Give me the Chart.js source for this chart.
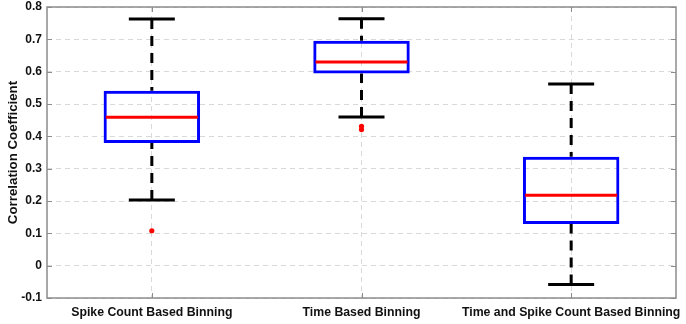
<!DOCTYPE html>
<html>
<head>
<meta charset="utf-8">
<script src="https://cdn.jsdelivr.net/npm/chart.js@4/dist/chart.umd.min.js"></script>
<style>
  html, body { margin: 0; padding: 0; background: #fff; }
  #wrap { width: 686px; height: 324px; }
</style>
</head>
<body>
<div id="wrap"><canvas id="boxChart"></canvas></div>
<script>
// data
const categories = ['Spike Count Based Binning', 'Time Based Binning', 'Time and Spike Count Based Binning'];
const whiskerLow = [0.203, 0.460, -0.058];
const q1 = [0.379, 0.594, 0.129];
const medians = [0.459, 0.630, 0.218];
const q3 = [0.541, 0.696, 0.337];
const whiskerHigh = [0.763, 0.764, 0.562];
const outliers = [
  { x: categories[0], y: 0.108 },
  { x: categories[1], y: 0.431 },
  { x: categories[1], y: 0.421 }
];
const yTicks = [-0.1, 0, 0.1, 0.2, 0.3, 0.4, 0.5, 0.6, 0.7, 0.8];

const FONT = '"Liberation Sans", Arial, sans-serif';

// whiskers, caps, medians, frame - all through the chart scales
const boxExtras = {
  id: 'boxExtras',
  beforeDatasetsDraw(chart) {
    const { ctx, scales: { x, y } } = chart;
    ctx.save();
    ctx.strokeStyle = '#000';
    ctx.lineWidth = 3;
    categories.forEach((c, i) => {
      const cx = x.getPixelForValue(i);
      // dashed whiskers
      ctx.setLineDash([10, 7]);
      ctx.beginPath();
      ctx.moveTo(cx, y.getPixelForValue(whiskerHigh[i]));
      ctx.lineTo(cx, y.getPixelForValue(q3[i]));
      ctx.moveTo(cx, y.getPixelForValue(whiskerLow[i]));
      ctx.lineTo(cx, y.getPixelForValue(q1[i]));
      ctx.stroke();
      // caps
      ctx.setLineDash([]);
      ctx.beginPath();
      ctx.moveTo(cx - 23, y.getPixelForValue(whiskerHigh[i]));
      ctx.lineTo(cx + 23, y.getPixelForValue(whiskerHigh[i]));
      ctx.moveTo(cx - 23, y.getPixelForValue(whiskerLow[i]));
      ctx.lineTo(cx + 23, y.getPixelForValue(whiskerLow[i]));
      ctx.stroke();
    });
    ctx.restore();
  },
  afterDatasetsDraw(chart) {
    const { ctx, chartArea: a, scales: { x, y } } = chart;
    ctx.save();
    // red medians
    ctx.strokeStyle = '#ff0000';
    ctx.lineWidth = 3;
    categories.forEach((c, i) => {
      const cx = x.getPixelForValue(i);
      const my = y.getPixelForValue(medians[i]);
      ctx.beginPath();
      ctx.moveTo(cx - 46, my);
      ctx.lineTo(cx + 46, my);
      ctx.stroke();
    });
    // grey frame and small ticks
    ctx.strokeStyle = '#8c8c8c';
    ctx.lineWidth = 1.5;
    ctx.strokeRect(a.left, a.top, a.right - a.left, a.bottom - a.top);
    ctx.lineWidth = 1;
    ctx.beginPath();
    yTicks.forEach(v => {
      const py = Math.round(y.getPixelForValue(v)) + 0.5;
      ctx.moveTo(a.left, py); ctx.lineTo(a.left + 5, py);
      ctx.moveTo(a.right, py); ctx.lineTo(a.right - 5, py);
    });
    categories.forEach((c, i) => {
      const px = Math.round(x.getPixelForValue(i)) + 0.5;
      ctx.moveTo(px, a.bottom); ctx.lineTo(px, a.bottom - 5);
      ctx.moveTo(px, a.top); ctx.lineTo(px, a.top + 5);
    });
    ctx.stroke();
    ctx.restore();
  }
};

const ctx = document.getElementById('boxChart').getContext('2d');
new Chart(ctx, {
  type: 'bar',
  data: {
    labels: categories,
    datasets: [{
      label: 'box',
      data: categories.map((c, i) => [q1[i], q3[i]]),
      backgroundColor: 'rgba(0,0,0,0)',
      borderColor: '#0000ff',
      borderWidth: 3,
      borderSkipped: false,
      categoryPercentage: 1,
      barPercentage: 0.46,
      order: 2
    }, {
      type: 'line',
      label: 'outliers',
      data: outliers,
      showLine: false,
      pointRadius: 2.6,
      pointBackgroundColor: '#ff0000',
      pointBorderColor: '#ff0000',
      pointBorderWidth: 0,
      order: 1
    }]
  },
  options: {
    responsive: true,
    maintainAspectRatio: false,
    animation: false,
    layout: { padding: { top: 7, right: 10, left: 0, bottom: 0 } },
    plugins: {
      legend: { display: false },
      tooltip: { enabled: false }
    },
    scales: {
      x: {
        grid: { color: '#d9d9d9', drawTicks: false, offset: false },
        border: { display: false, dash: [5, 4] },
        ticks: { color: '#111', font: { family: FONT, size: 12.3, weight: 'bold' }, padding: 7, maxRotation: 0, autoSkip: false },
        afterFit(s) { s.height = 26; s.paddingRight = 0; }
      },
      y: {
        min: -0.1,
        max: 0.8,
        afterBuildTicks(s) { s.ticks = yTicks.map(v => ({ value: v })); },
        grid: { color: '#d9d9d9', drawTicks: false },
        border: { display: false, dash: [5, 4] },
        ticks: {
          color: '#111',
          font: { family: FONT, size: 12, weight: 'bold' },
          padding: 5,
          callback: v => Math.abs(v) < 1e-9 ? '0' : v.toFixed(1)
        },
        title: {
          display: true,
          text: 'Correlation Coefficient',
          color: '#111',
          font: { family: FONT, size: 13.3, weight: 'bold' },
          padding: { top: 5, bottom: 2 }
        },
        afterFit(s) { s.width = 47; s.paddingTop = 0; }
      }
    }
  },
  plugins: [boxExtras]
});
</script>
</body>
</html>
